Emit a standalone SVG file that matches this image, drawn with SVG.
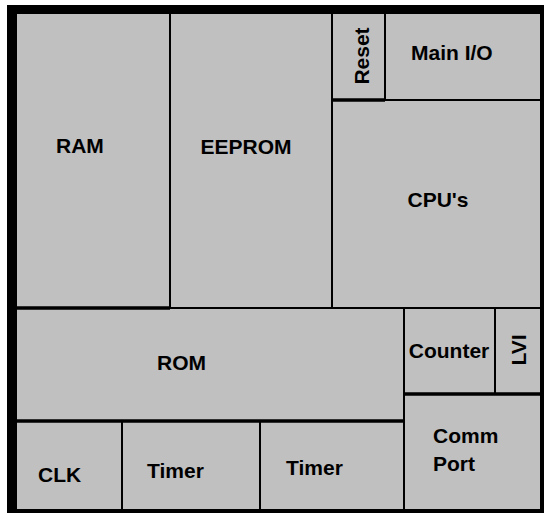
<svg xmlns="http://www.w3.org/2000/svg" width="544" height="513" viewBox="0 0 544 513">
<style>
.cell{fill:#c0c0c0;stroke:#000;stroke-width:2}
.lbl{font-family:"Liberation Sans",Arial,sans-serif;font-weight:bold;font-size:21px;fill:#000}
.thick{stroke:#000;stroke-width:3.5}
</style>
<rect x="0" y="0" width="544" height="513" fill="#fff"/>
<rect x="7" y="5" width="537" height="508" fill="#000"/>
<g id="ram"><rect class="cell" x="16" y="13" width="154" height="295"/><text class="lbl" x="56" y="153">RAM</text></g>
<g id="eeprom"><rect class="cell" x="170" y="13" width="162" height="295"/><text class="lbl" x="246" y="154" text-anchor="middle">EEPROM</text></g>
<g id="reset"><rect class="cell" x="332" y="13" width="53" height="87"/><text class="lbl" transform="translate(369,56) rotate(-90)" text-anchor="middle">Reset</text></g>
<g id="mainio"><rect class="cell" x="385" y="13" width="156" height="87"/><text class="lbl" x="411" y="60">Main I/O</text></g>
<g id="cpus"><rect class="cell" x="332" y="100" width="209" height="208"/><text class="lbl" x="438" y="207" text-anchor="middle">CPU's</text></g>
<g id="rom"><rect class="cell" x="16" y="308" width="388" height="113"/><text class="lbl" x="157" y="370">ROM</text></g>
<g id="counter"><rect class="cell" x="404" y="308" width="91" height="86"/><text class="lbl" x="449" y="358" text-anchor="middle">Counter</text></g>
<g id="lvi"><rect class="cell" x="495" y="308" width="46" height="86"/><text class="lbl" transform="translate(526,350) rotate(-90)" text-anchor="middle">LVI</text></g>
<g id="commport"><rect class="cell" x="404" y="394" width="137" height="116"/><text class="lbl" x="433" y="443">Comm</text><text class="lbl" x="433" y="471">Port</text></g>
<g id="clk"><rect class="cell" x="16" y="421" width="106" height="89"/><text class="lbl" x="38" y="482">CLK</text></g>
<g id="timer1"><rect class="cell" x="122" y="421" width="138" height="89"/><text class="lbl" x="147" y="478">Timer</text></g>
<g id="timer2"><rect class="cell" x="260" y="421" width="144" height="89"/><text class="lbl" x="286" y="475">Timer</text></g>
<g id="connectors">
<line class="thick" x1="16" y1="308" x2="170" y2="308"/>
<line class="thick" x1="16" y1="421" x2="404" y2="421"/>
<line class="thick" x1="332" y1="100" x2="385" y2="100"/>
<line class="thick" x1="404" y1="394" x2="541" y2="394"/>
</g>
</svg>
